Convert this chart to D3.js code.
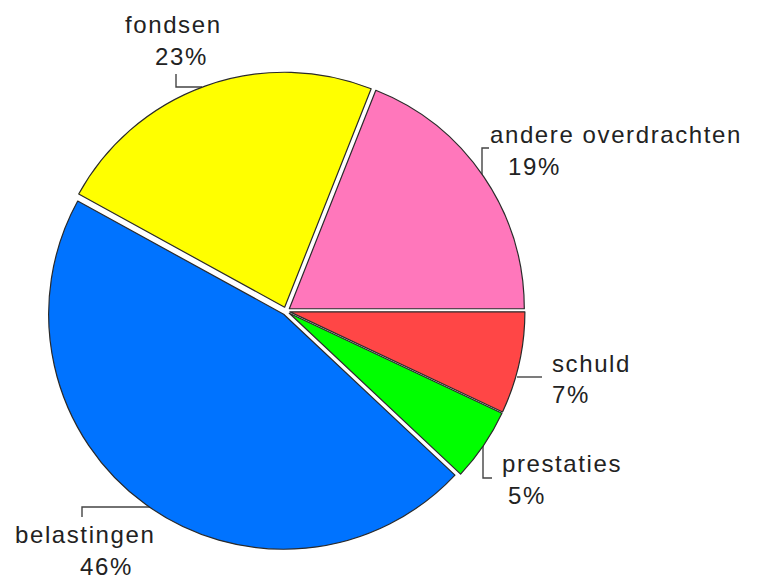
<!DOCTYPE html>
<html>
<head>
<meta charset="utf-8">
<script src="https://cdn.jsdelivr.net/npm/d3@7/dist/d3.min.js"></script>
<style>
  html, body { margin: 0; padding: 0; background: #fff; }
  text { font-family: "Liberation Sans", Arial, sans-serif; }
</style>
</head>
<body>
<svg id="chart" width="759" height="580"></svg>
<script>
// ---- data ----
const categories = ["schuld", "prestaties", "belastingen", "fondsen", "andere overdrachten"];
const values = [7, 5, 46, 23, 19];
const percentLabels = ["7%", "5%", "46%", "23%", "19%"];
const colors = ["#FF4646", "#00FF00", "#0073FF", "#FFFF00", "#FF77BB"];

// ---- layout (label placement, not data) ----
const labelLayout = [
  { line1: [552, 372], line2: [552, 403], leader: [[542, 377], [517, 377]] },
  { line1: [502, 472], line2: [508, 504], leader: [[492, 478], [483, 478], [483, 446]] },
  { line1: [15, 543],  line2: [80, 575],  leader: [[82, 517], [82, 507], [150, 507]] },
  { line1: [125, 33],  line2: [155, 65],  leader: [[176, 74], [176, 87], [202, 87]] },
  { line1: [490, 143], line2: [508, 175], leader: [[489, 148], [482, 148], [482, 176]] }
];

const cx = 286, cy = 311, r = 235, explode = 4;

const svg = d3.select("#chart");

const data = categories.map((c, i) => ({ name: c, value: values[i], pct: percentLabels[i], color: colors[i], layout: labelLayout[i] }));

const pie = d3.pie()
  .value(d => d.value)
  .sort(null)
  .startAngle(Math.PI / 2)
  .endAngle(Math.PI / 2 + 2 * Math.PI);

const arc = d3.arc().innerRadius(0).outerRadius(r);
const arcs = pie(data);

// leader lines (under the pie)
const line = d3.line();
svg.append("g").selectAll("path")
  .data(arcs)
  .join("path")
  .attr("d", d => line(d.data.layout.leader))
  .attr("fill", "none")
  .attr("stroke", "#444")
  .attr("stroke-width", 1.4);

// slices
svg.append("g")
  .selectAll("path")
  .data(arcs)
  .join("path")
  .attr("transform", d => {
    const a = (d.startAngle + d.endAngle) / 2;
    const dx = Math.sin(a) * explode, dy = -Math.cos(a) * explode;
    return `translate(${cx + dx},${cy + dy})`;
  })
  .attr("d", arc)
  .attr("fill", d => d.data.color)
  .attr("stroke", "#2a2a2a")
  .attr("stroke-width", 1.2)
  .attr("stroke-linejoin", "round");

// labels
const lg = svg.append("g")
  .attr("font-size", 24)
  .attr("fill", "#222")
  .style("letter-spacing", "1.6px");

arcs.forEach(d => {
  const L = d.data.layout;
  lg.append("text").attr("x", L.line1[0]).attr("y", L.line1[1]).text(d.data.name);
  lg.append("text").attr("x", L.line2[0]).attr("y", L.line2[1]).text(d.data.pct);
});
</script>
</body>
</html>
